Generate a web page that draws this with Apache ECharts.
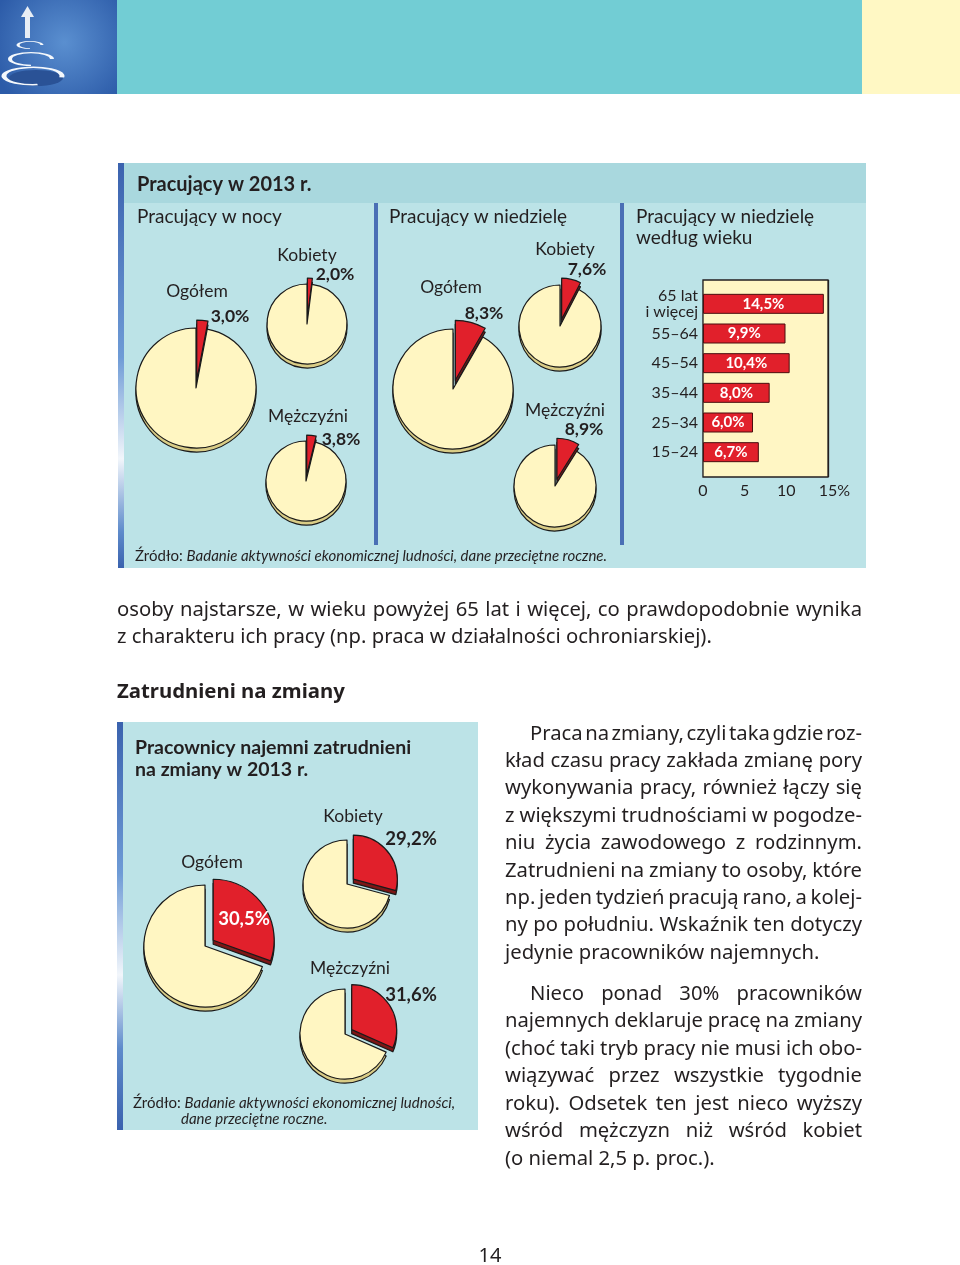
<!DOCTYPE html>
<html><head><meta charset="utf-8">
<script src="https://cdn.jsdelivr.net/npm/echarts@6/dist/echarts.min.js"></script>
<style>
html,body{margin:0;padding:0;background:#fff;}
#chart{position:absolute;left:0;top:0;width:960px;height:1265px;}
.t{position:absolute;font-family:'Noto Sans',Lato,sans-serif;color:#231F20;white-space:nowrap;font-size:20px;line-height:27px;height:27px;}
.j{text-align:justify;text-align-last:justify;}
</style></head><body>
<div id="chart"></div>
<div id="text"></div>
<script>
// ---------- DATA ----------
const groupLabels = ['Ogółem', 'Kobiety', 'Mężczyźni'];
const nightValues = [3.0, 2.0, 3.8];
const sundayValues = [8.3, 7.6, 8.9];
const shiftValues = [30.5, 29.2, 31.6];
const ageCategories = ['65 lat\ni więcej', '55–64', '45–54', '35–44', '25–34', '15–24'];
const ageValues = [14.5, 9.9, 10.4, 8.0, 6.0, 6.7];
const ageTicks = [0, 5, 10, 15];

const paraTop = ['osoby najstarsze, w wieku powyżej 65 lat i więcej, co prawdopodobnie wynika',
  'z charakteru ich pracy (np. praca w działalności ochroniarskiej).'];
const paraR1 = ['Praca na zmiany, czyli taka gdzie roz-', 'kład czasu pracy zakłada zmianę pory',
  'wykonywania pracy, również łączy się', 'z większymi trudnościami w pogodze-',
  'niu życia zawodowego z rodzinnym.', 'Zatrudnieni na zmiany to osoby, które',
  'np. jeden tydzień pracują rano, a kolej-', 'ny po południu. Wskaźnik ten dotyczy',
  'jedynie pracowników najemnych.'];
const paraR2 = ['Nieco ponad 30% pracowników', 'najemnych deklaruje pracę na zmiany',
  '(choć taki tryb pracy nie musi ich obo-', 'wiązywać przez wszystkie tygodnie',
  'roku). Odsetek ten jest nieco wyższy', 'wśród mężczyzn niż wśród kobiet',
  '(o niemal 2,5 p. proc.).'];

// ---------- HTML TEXT ----------
const T = document.getElementById('text');
const mctx = document.createElement('canvas').getContext('2d');
function measure(text, weight, sizePx, family) {
  mctx.font = weight + ' ' + sizePx + 'px ' + family;
  return mctx.measureText(text).width;
}
function fitSize(text, weight, family, targetW) {
  return 100 * targetW / measure(text, weight, 100, family);
}
const BODY_FAMILY = '"Noto Sans"';
function line(txt, x, yc, w, justify, extra) {
  const d = document.createElement('div');
  d.className = 't ' + (justify ? 'j' : '');
  d.style.left = x + 'px'; d.style.top = (yc - 13.5) + 'px';
  if (w) d.style.width = w + 'px';
  if (extra) Object.assign(d.style, extra);
  if (justify && w) {
    const fs = parseFloat(d.style.fontSize || '20');
    const nat = measure(txt, 'normal', fs, BODY_FAMILY);
    if (nat > w - 1) {
      const spaces = (txt.match(/ /g) || []).length || 1;
      let ws = (w - 1 - nat) / spaces;
      let ls = 0;
      if (ws < -2.8) {
        const rest = (w - 1 - nat) + 2.8 * spaces;
        ws = -2.8;
        ls = rest / (txt.length - 1);
      }
      d.style.wordSpacing = ws.toFixed(2) + 'px';
      if (ls) d.style.letterSpacing = ls.toFixed(2) + 'px';
    }
  }
  d.textContent = txt; T.appendChild(d);
}
const bodyFs = Math.min(21, fitSize(paraTop[1], 'normal', BODY_FAMILY, 595)).toFixed(2) + 'px';
const headFs = Math.min(22, fitSize('Zatrudnieni na zmiany', 'bold', BODY_FAMILY, 228)).toFixed(2) + 'px';
paraTop.forEach((s, i) => line(s, 117, 608 + i * 27.3, 745, i < paraTop.length - 1, {fontSize: bodyFs}));
line('Zatrudnieni na zmiany', 117, 690, null, false, {fontWeight: 'bold', fontSize: headFs});
paraR1.forEach((s, i) => line(s, i === 0 ? 530 : 505, 732 + i * 27.4, i === 0 ? 332 : 357, i < paraR1.length - 1, {fontSize: bodyFs}));
paraR2.forEach((s, i) => line(s, i === 0 ? 530 : 505, 992 + i * 27.5, i === 0 ? 332 : 357, i < paraR2.length - 1, {fontSize: bodyFs}));
line('14', 478, 1254, 24, false, {fontSize: '20px', textAlign: 'center'});

// ---------- CHART ----------
const FF = 'Lato, "Noto Sans", sans-serif';
const INK = '#231F20';
const RED = '#E1202B';
const CREAM = '#FFF6C2';
const fmt = v => v.toFixed(1).replace('.', ',') + '%';

const chart = echarts.init(document.getElementById('chart'), null, {renderer: 'canvas'});

function pieSeries(value, center, r, off) {
  const mk = (dy, cRed, cCream) => ({
    type: 'pie', center: [center[0], center[1] + dy], radius: r,
    startAngle: 90, clockwise: true, selectedMode: 'single', selectedOffset: off,
    silent: true, animation: false, label: {show: false}, labelLine: {show: false},
    emphasis: {disabled: true}, z: dy ? 2 : 3,
    itemStyle: {borderColor: '#1a1a1a', borderWidth: 1.2},
    data: [
      {value: value, selected: true, itemStyle: {color: cRed}, select: {itemStyle: {color: cRed}}},
      {value: 100 - value, itemStyle: {color: cCream}}
    ]
  });
  return [mk(4, '#7E1616', '#D9CC86'), mk(0, RED, CREAM)];
}

const pieLayout = {
  night: [{c: [196, 388], r: 60, o: 8}, {c: [307, 324], r: 40, o: 6}, {c: [306, 481], r: 40, o: 6}],
  sunday: [{c: [453, 389], r: 60, o: 9}, {c: [560, 326], r: 41, o: 7}, {c: [555, 486], r: 41, o: 7}],
  shift: [{c: [205, 946], r: 61, o: 10}, {c: [347, 884], r: 44, o: 8}, {c: [345, 1034], r: 45, o: 8}]
};

let series = [];
nightValues.forEach((v, i) => series = series.concat(pieSeries(v, pieLayout.night[i].c, pieLayout.night[i].r, pieLayout.night[i].o)));
sundayValues.forEach((v, i) => series = series.concat(pieSeries(v, pieLayout.sunday[i].c, pieLayout.sunday[i].r, pieLayout.sunday[i].o)));
shiftValues.forEach((v, i) => series = series.concat(pieSeries(v, pieLayout.shift[i].c, pieLayout.shift[i].r, pieLayout.shift[i].o)));

series.push({
  type: 'bar', xAxisIndex: 1, yAxisIndex: 1, data: ageValues, barWidth: 20, z: 5,
  itemStyle: {color: RED, borderColor: '#4a0f0f', borderWidth: 1},
  label: {show: true, position: 'inside', formatter: p => fmt(p.value), color: '#fff',
    fontWeight: 'bold', fontSize: 15, fontFamily: FF},
  silent: true
});

function txt(x, y, text, o) {
  o = o || {};
  return {type: 'text', x: x, y: y, z: 100, silent: true, style: Object.assign({
    text: text, fill: INK, fontFamily: FF, fontSize: 17,
    align: o.align || 'center', textAlign: o.align || 'center',
    verticalAlign: 'middle', textVerticalAlign: 'middle'}, o.style || {})};
}
function rect(x, y, w, h, fill, z) {
  return {type: 'rect', shape: {x: x, y: y, width: w, height: h}, style: {fill: fill}, z: z || 0, silent: true};
}
function ell(cx, cy, r, a0, a1, lw) {
  return {type: 'arc', shape: {cx: cx, cy: cy, r: r, startAngle: a0, endAngle: a1},
    scaleY: 0.3, originX: cx, originY: cy,
    style: {stroke: '#F4F8FC', lineWidth: lw, fill: null}, z: 2, silent: true};
}
const stripe = (a) => new echarts.graphic.LinearGradient(0, 0, 0, 1, [
  {offset: 0, color: '#3A62AE'}, {offset: a - 0.25, color: '#6E9BD6'},
  {offset: a, color: '#F2F6FB'}, {offset: Math.min(a + 0.18, 0.98), color: '#5E8BCB'}, {offset: 1, color: '#3A62AE'}]);
const richSrc = {a: {fontSize: 15, fontFamily: FF, fill: INK}, b: {fontSize: 15, fontFamily: FF, fontStyle: 'italic', fill: INK}};

const pctLabelPos = {
  night: [[230, 316], [335, 274], [341, 439]],
  sunday: [[484, 313], [587, 269], [584, 429]],
  shift: [[244, 919], [411, 839], [411, 995]]
};
const grpLabelPos = {
  night: [[197, 291], [307, 255], [308, 416]],
  sunday: [[451, 287], [565, 249], [565, 410]],
  shift: [[212, 862], [353, 816], [350, 968]]
};

const graphics = [
  // header
  {type: 'rect', shape: {x: 0, y: 0, width: 117, height: 94}, silent: true, z: 0,
    style: {fill: new echarts.graphic.RadialGradient(0.55, 0.45, 0.8, [{offset: 0, color: '#5A8FD0'}, {offset: 1, color: '#2C5BA8'}])}},
  rect(117, 0, 745, 94, '#72CDD4'),
  rect(862, 0, 98, 94, '#FFF8C4'),
  {type: 'circle', shape: {cx: 36, cy: 78, r: 27}, scaleY: 0.3, originX: 36, originY: 78,
    style: {fill: '#2A5296'}, z: 1, silent: true},
  ell(33, 76, 29, Math.PI * 0.45, Math.PI * 2.05, 5),
  ell(31, 59, 21, Math.PI * 0.5, Math.PI * 2.0, 4),
  ell(30, 45, 12, Math.PI * 0.5, Math.PI * 2.0, 3),
  rect(25, 16, 5, 22, '#E8EEF5', 2),
  {type: 'polygon', shape: {points: [[21, 17], [27.5, 6], [34, 17]]}, style: {fill: '#E8EEF5'}, z: 2, silent: true},
  // top panel
  rect(118, 163, 748, 405, '#BCE3E7'),
  rect(118, 163, 748, 40, '#A9D8DE'),
  {type: 'rect', shape: {x: 118, y: 163, width: 6, height: 405}, style: {fill: stripe(0.73)}, silent: true, z: 1},
  rect(374, 203, 4, 342, '#4A6FB5', 1),
  rect(620, 203, 4, 342, '#4A6FB5', 1),
  // bottom panel
  rect(117, 722, 361, 408, '#BCE3E7'),
  {type: 'rect', shape: {x: 117, y: 722, width: 6, height: 408}, style: {fill: stripe(0.62)}, silent: true, z: 1},
  // titles
  txt(137, 185, 'Pracujący w 2013 r.', {align: 'left', style: {fontWeight: 'bold', fontSize: 20}}),
  txt(137, 217, 'Pracujący w nocy', {align: 'left', style: {fontSize: 19}}),
  txt(389, 217, 'Pracujący w niedzielę', {align: 'left', style: {fontSize: 19}}),
  txt(636, 217, 'Pracujący w niedzielę', {align: 'left', style: {fontSize: 19}}),
  txt(636, 238, 'według wieku', {align: 'left', style: {fontSize: 19}}),
  txt(135, 556, '{a|Źródło: }{b|Badanie aktywności ekonomicznej ludności, dane przeciętne roczne.}', {align: 'left',
    style: {rich: richSrc}}),
  txt(135, 748, 'Pracownicy najemni zatrudnieni', {align: 'left', style: {fontWeight: 'bold', fontSize: 19.5}}),
  txt(135, 770, 'na zmiany w 2013 r.', {align: 'left', style: {fontWeight: 'bold', fontSize: 19.5}}),
  txt(133, 1103, '{a|Źródło: }{b|Badanie aktywności ekonomicznej ludności,}', {align: 'left',
    style: {rich: richSrc}}),
  txt(181, 1119, 'dane przeciętne roczne.', {align: 'left', style: {fontSize: 15, fontStyle: 'italic'}})
];
['night', 'sunday', 'shift'].forEach(k => {
  const vals = k === 'night' ? nightValues : k === 'sunday' ? sundayValues : shiftValues;
  groupLabels.forEach((g, i) => {
    graphics.push(txt(grpLabelPos[k][i][0], grpLabelPos[k][i][1], g, {style: {fontSize: 17.5}}));
    const white = (k === 'shift' && i === 0);
    graphics.push(txt(pctLabelPos[k][i][0], pctLabelPos[k][i][1], fmt(vals[i]),
      {style: {fontSize: k === 'shift' ? 18.5 : 17.5, fontWeight: 'bold', fill: white ? '#fff' : INK}}));
  });
});

const lastTick = ageTicks[ageTicks.length - 1];
const option = {
  animation: false,
  backgroundColor: 'transparent',
  graphic: {elements: graphics},
  grid: [
    {left: 703, top: 280, width: 125, height: 197, show: true, backgroundColor: '#FFF6C4', borderColor: INK, borderWidth: 1.3, z: 2},
    {left: 703, top: 289, width: 125, height: 178, z: 3}
  ],
  xAxis: [
    {gridIndex: 0, type: 'value', min: ageTicks[0], max: lastTick, interval: ageTicks[1] - ageTicks[0],
      axisLine: {show: false}, axisTick: {show: false},
      splitLine: {show: true, lineStyle: {color: INK, width: 1.3}},
      axisLabel: {formatter: v => v === lastTick ? '{s|%}{n|' + v + '}{n|%}' : '{n|' + v + '}',
        color: INK, margin: 6,
        rich: {n: {fontSize: 16, color: INK, fontFamily: FF}, s: {fontSize: 16, color: 'rgba(0,0,0,0)', fontFamily: FF}}}},
    {gridIndex: 1, type: 'value', min: ageTicks[0], max: lastTick, show: false}
  ],
  yAxis: [
    {gridIndex: 0, type: 'value', show: false},
    {gridIndex: 1, type: 'category', data: ageCategories, inverse: true,
      axisLine: {show: false}, axisTick: {show: false},
      axisLabel: {fontSize: 16, lineHeight: 16, color: INK, fontFamily: FF, margin: 5}}
  ],
  series: series
};
chart.setOption(option);
</script>
</body></html>
